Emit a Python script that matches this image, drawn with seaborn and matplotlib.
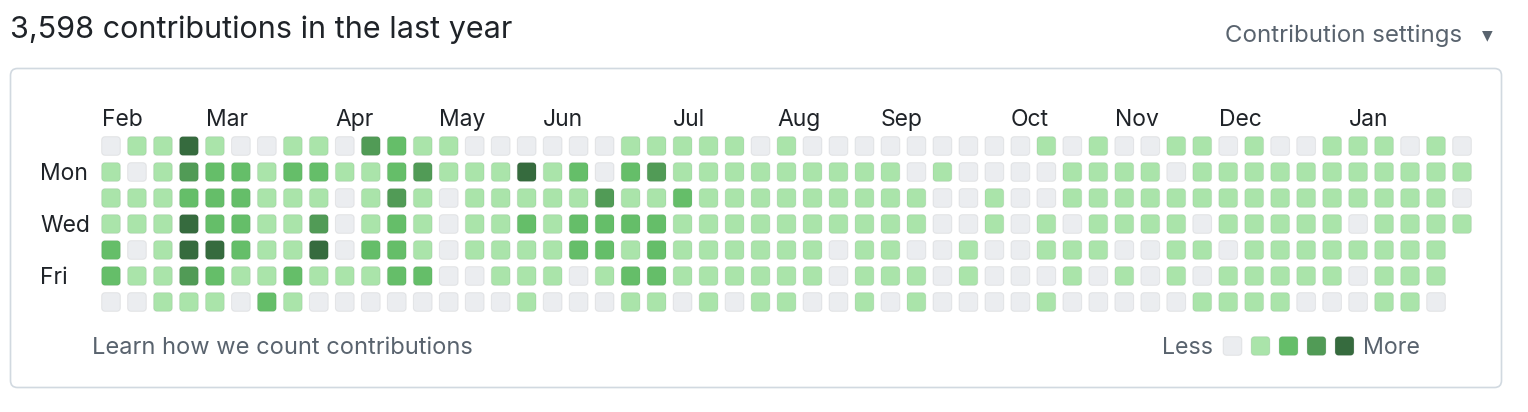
import numpy as np
import pandas as pd
import seaborn as sns
import matplotlib.pyplot as plt
from matplotlib.path import Path
from matplotlib.patches import FancyBboxPatch
from matplotlib.transforms import IdentityTransform

# contribution level (0-4) per week, one list per weekday
sun = [0,1,1,4,1,0,0,1,1,0,3, 2,1,1,0,0,0,0,0,0,1,1, 1,1,1,0,1,0,0,0,0,0,0, 0,0,0,1,0,1,0,0,1,1,0, 1,0,0,1,1,1,0,1,0]
mon = [1,0,1,3,2,2,1,2,2,1,1, 2,3,1,1,1,4,1,2,0,2,3, 1,1,1,1,1,1,1,1,1,0,1, 0,0,0,0,1,1,1,1,0,1,1, 1,1,1,1,1,1,1,1,1]
tue = [1,1,1,2,2,2,1,1,1,0,1, 3,1,0,1,1,1,1,1,3,1,1, 2,1,1,1,1,1,1,1,1,1,0, 0,1,0,0,1,1,1,1,1,1,1, 1,1,1,1,1,1,1,1,0]
wed = [1,1,1,4,2,2,1,1,3,0,1, 2,1,0,1,1,2,1,2,2,2,2, 1,1,1,1,1,1,1,1,1,1,0, 0,1,0,1,0,1,1,1,1,0,1, 1,1,1,1,0,1,1,1,1]
thu = [2,0,1,4,4,2,1,1,4,0,2, 2,1,0,1,1,1,1,2,2,1,2, 1,1,1,1,1,1,0,1,1,0,0, 1,0,0,1,1,1,0,0,1,1,0, 1,1,1,1,1,1,1,1]
fri = [2,1,1,3,2,1,1,2,1,1,1, 2,2,0,0,1,1,1,0,1,2,2, 1,1,1,1,1,1,0,1,1,1,0, 1,0,0,0,1,0,1,0,1,0,1, 1,1,1,1,0,1,1,1]
sat = [0,0,1,1,1,0,2,1,0,0,0, 0,0,0,0,0,1,0,0,0,1,1, 0,1,0,1,1,0,0,1,0,1,0, 0,0,0,1,0,0,0,0,0,1,1, 1,1,0,0,0,1,1,0]

months = ['Feb', 'Mar', 'Apr', 'May', 'Jun', 'Jul', 'Aug', 'Sep', 'Oct', 'Nov', 'Dec', 'Jan']
month_weeks = [0, 4, 9, 13, 17, 22, 26, 30, 35, 39, 43, 48]
day_labels = {1: 'Mon', 3: 'Wed', 5: 'Fri'}
levels = [0, 1, 2, 3, 4]
colors = ['#ebedf0', '#aae4aa', '#65be69', '#519b56', '#366b3e']

# build long table
rows = []
for d, week_list in enumerate([sun, mon, tue, wed, thu, fri, sat]):
    for w, lvl in enumerate(week_list):
        rows.append({'week': w, 'day': d, 'level': lvl})
df = pd.DataFrame(rows)
legend_df = pd.DataFrame({'pos': range(len(levels)), 'y': 0, 'level': levels})


def rounded_square(r=0.35, n=10):
    pts = []
    for cx, cy, a0 in [(1 - r, 1 - r, 0), (-1 + r, 1 - r, 90), (-1 + r, -1 + r, 180), (1 - r, -1 + r, 270)]:
        t = np.radians(np.linspace(a0, a0 + 90, n))
        pts += list(zip(cx + r * np.cos(t), cy + r * np.sin(t)))
    pts.append(pts[0])
    return Path(pts, closed=True)


cell = rounded_square()
palette = dict(zip(levels, colors))
W, H = 1528, 412
dark = '#1f2328'
muted = '#59636e'
plt.rcParams['font.family'] = ['Inter', 'DejaVu Sans']

fig = plt.figure(figsize=(W / 100, H / 100), dpi=100)

# outer box (behind everything)
fig.add_artist(FancyBboxPatch((10.5, 24.5), 1491, 319,
                              boxstyle='round,pad=0,rounding_size=7',
                              transform=IdentityTransform(), facecolor='none',
                              edgecolor='#d1d9e0', linewidth=1.2, zorder=-5))

# grid
ax = fig.add_axes([98 / W, 1 - 315 / H, 1377 / W, 182 / H])
sns.scatterplot(data=df, x='week', y='day', hue='level', palette=palette,
                marker=cell, s=182, edgecolor=(0.106, 0.122, 0.137, 0.07),
                linewidth=0.8, legend=False, ax=ax)
ax.set_xlim(-0.5, 52.5)
ax.set_ylim(6.5, -0.5)
ax.axis('off')

for name, w in zip(months, month_weeks):
    ax.text(w - 0.36, -1.0, name, ha='left', va='center', fontsize=16.5, color=dark)
for d, name in day_labels.items():
    ax.text(-0.5 - 58 / 26, d + 0.07, name, ha='left', va='center', fontsize=16.5, color=dark)

# legend strip
lax = fig.add_axes([1218.5 / W, (H - 346 - 13) / H, 140 / W, 26 / H])
sns.scatterplot(data=legend_df, x='pos', y='y', hue='level', palette=palette,
                marker=cell, s=182, edgecolor=(0.106, 0.122, 0.137, 0.07),
                linewidth=0.8, legend=False, ax=lax)
lax.set_xlim(-0.5, 4.5)
lax.set_ylim(-0.5, 0.5)
lax.axis('off')

fig.text(1213 / W, 1 - 347.5 / H, 'Less', ha='right', va='center', fontsize=16.7, color=muted)
fig.text(1363 / W, 1 - 347.5 / H, 'More', ha='left', va='center', fontsize=16.7, color=muted)
fig.text(92 / W, 1 - 347.5 / H, 'Learn how we count contributions', ha='left', va='center',
         fontsize=17, color=muted)

fig.text(10 / W, 1 - 30 / H, '3,598 contributions in the last year', ha='left', va='center',
         fontsize=22, color=dark)
fig.text(1462 / W, 1 - 35.5 / H, 'Contribution settings', ha='right', va='center',
         fontsize=17.3, color=muted)
fig.text(1487 / W, 1 - 35 / H, '▼', ha='center', va='center', fontsize=10, color=muted,
         family=['DejaVu Sans'])

fig.savefig('out.png', dpi=100, facecolor='white')
